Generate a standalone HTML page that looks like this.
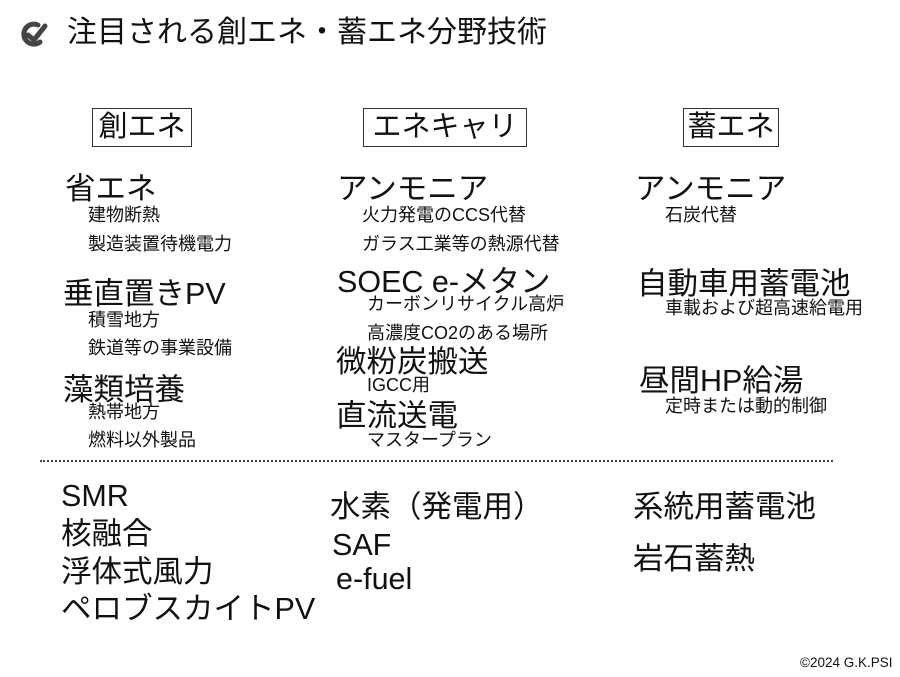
<!DOCTYPE html>
<html><head><meta charset="utf-8"><style>
body{margin:0;width:900px;height:677px;background:#fff;position:relative;overflow:hidden;font-family:"Liberation Sans","Noto Sans CJK JP",sans-serif;color:#111}
.t{position:absolute;white-space:nowrap;line-height:1}
.b{font-size:30.5px}
.s{font-size:18px}
.box{position:absolute;border:1.5px solid #333;font-size:29px;line-height:36px;text-align:center;box-sizing:border-box}
</style></head><body>
<svg style="position:absolute;left:18px;top:20px" width="32" height="30" viewBox="0 0 32 30">
<path d="M20 5 A10 10 0 1 0 22 22" fill="none" stroke="#444" stroke-width="5" stroke-linecap="round"/>
<path d="M10 15 L16 20 L27 6" fill="none" stroke="#444" stroke-width="5" stroke-linecap="round"/>
</svg>
<div class="t" style="left:67px;top:18px;font-size:30px">注目される創エネ・蓄エネ分野技術</div>
<div class="box" style="left:92px;top:108px;width:100px;height:39px">創エネ</div>
<div class="box" style="left:363px;top:108px;width:164px;height:39px">エネキャリ</div>
<div class="box" style="left:683px;top:108px;width:96px;height:39px">蓄エネ</div>

<div class="t b" style="left:65px;top:174px">省エネ</div>
<div class="t s" style="left:88px;top:206px">建物断熱</div>
<div class="t s" style="left:88px;top:235px">製造装置待機電力</div>
<div class="t b" style="left:63px;top:279px">垂直置きPV</div>
<div class="t s" style="left:88px;top:311px">積雪地方</div>
<div class="t s" style="left:88px;top:339px">鉄道等の事業設備</div>
<div class="t b" style="left:63px;top:375px">藻類培養</div>
<div class="t s" style="left:88px;top:403px">熱帯地方</div>
<div class="t s" style="left:88px;top:431px">燃料以外製品</div>

<div class="t b" style="left:337px;top:174px">アンモニア</div>
<div class="t s" style="left:362px;top:206px">火力発電のCCS代替</div>
<div class="t s" style="left:362px;top:235px">ガラス工業等の熱源代替</div>
<div class="t b" style="left:337px;top:267px">SOEC e-メタン</div>
<div class="t s" style="left:367px;top:295px">カーボンリサイクル高炉</div>
<div class="t s" style="left:367px;top:324px">高濃度CO2のある場所</div>
<div class="t b" style="left:336px;top:347px">微粉炭搬送</div>
<div class="t s" style="left:367px;top:376px">IGCC用</div>
<div class="t b" style="left:336px;top:401px">直流送電</div>
<div class="t s" style="left:367px;top:431px">マスタープラン</div>

<div class="t b" style="left:635px;top:174px">アンモニア</div>
<div class="t s" style="left:665px;top:206px">石炭代替</div>
<div class="t b" style="left:637px;top:269px">自動車用蓄電池</div>
<div class="t s" style="left:665px;top:299px">車載および超高速給電用</div>
<div class="t b" style="left:639px;top:366px">昼間HP給湯</div>
<div class="t s" style="left:665px;top:397px">定時または動的制御</div>

<div style="position:absolute;left:40px;top:460px;width:793px;border-top:2px dotted #444"></div>

<div class="t b" style="left:61px;top:481px">SMR</div>
<div class="t b" style="left:61px;top:519px">核融合</div>
<div class="t b" style="left:61px;top:557px">浮体式風力</div>
<div class="t b" style="left:61px;top:594px">ペロブスカイトPV</div>
<div class="t b" style="left:330px;top:492px">水素（発電用）</div>
<div class="t b" style="left:332px;top:530px">SAF</div>
<div class="t b" style="left:336px;top:564px">e-fuel</div>
<div class="t b" style="left:633px;top:492px">系統用蓄電池</div>
<div class="t b" style="left:633px;top:544px">岩石蓄熱</div>
<div class="t" style="left:800px;top:656px;font-size:13.5px">©2024 G.K.PSI</div>
</body></html>
